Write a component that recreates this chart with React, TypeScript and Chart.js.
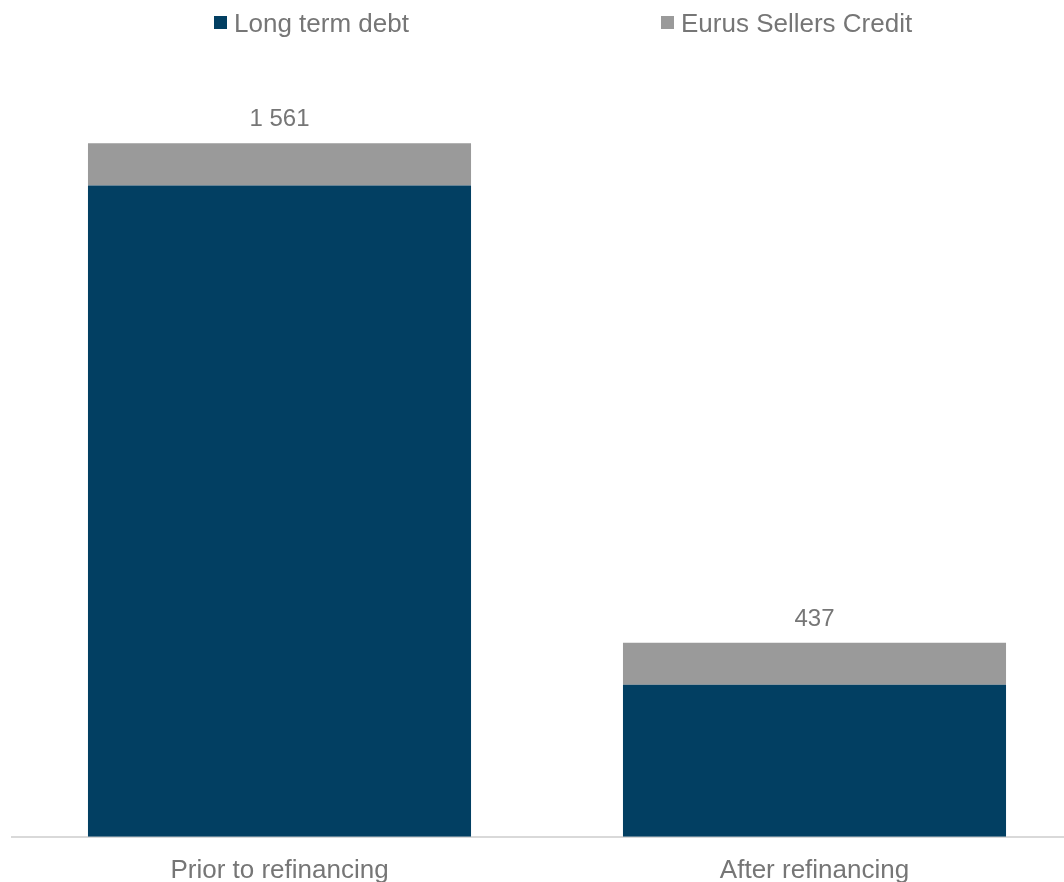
import React, { useEffect, useRef } from "react";
import { Chart, registerables } from "chart.js";

Chart.register(...registerables);

const categories = ["Prior to refinancing", "After refinancing"];
const longTermDebt = [1466, 342];
const eurusSellersCredit = [95, 95];
const seriesNames = ["Long term debt", "Eurus Sellers Credit"];
const seriesColors = ["#023F62", "#9A9A9A"];

const TEXT_COLOR = "#767676";
const FONT_FAMILY = "'Liberation Sans', Arial, sans-serif";

function formatTotal(v: number): string {
  return String(Math.round(v)).replace(/\B(?=(\d{3})+(?!\d))/g, " ");
}

const totalsPlugin = {
  id: "stackTotals",
  afterDatasetsDraw(chart: any) {
    const ctx = chart.ctx;
    const n = chart.data.labels.length;
    const lastMeta = chart.getDatasetMeta(chart.data.datasets.length - 1);
    ctx.save();
    ctx.font = `24px ${FONT_FAMILY}`;
    ctx.fillStyle = TEXT_COLOR;
    ctx.textAlign = "center";
    ctx.textBaseline = "alphabetic";
    for (let i = 0; i < n; i++) {
      let total = 0;
      chart.data.datasets.forEach((ds: any) => (total += ds.data[i]));
      const el = lastMeta.data[i];
      ctx.fillText(formatTotal(total), el.x, el.y - 17);
    }
    ctx.restore();
  },
};

const legendPlugin = {
  id: "customLegend",
  afterDraw(chart: any) {
    const ctx = chart.ctx;
    const starts = [214, 661];
    ctx.save();
    ctx.font = `26px ${FONT_FAMILY}`;
    ctx.textBaseline = "alphabetic";
    ctx.textAlign = "left";
    chart.data.datasets.forEach((ds: any, i: number) => {
      const x = starts[i];
      ctx.fillStyle = ds.backgroundColor;
      ctx.fillRect(x, 16, 13, 13);
      ctx.fillStyle = TEXT_COLOR;
      ctx.fillText(ds.label, x + 20, 32);
    });
    ctx.restore();
  },
};

export default function App() {
  const canvasRef = useRef<HTMLCanvasElement | null>(null);

  useEffect(() => {
    if (!canvasRef.current) return;
    const chart = new Chart(canvasRef.current, {
      type: "bar",
      data: {
        labels: categories,
        datasets: [
          {
            label: seriesNames[0],
            data: longTermDebt,
            backgroundColor: seriesColors[0],
            categoryPercentage: 1,
            barPercentage: 0.716,
          },
          {
            label: seriesNames[1],
            data: eurusSellersCredit,
            backgroundColor: seriesColors[1],
            categoryPercentage: 1,
            barPercentage: 0.716,
          },
        ],
      },
      options: {
        responsive: false,
        animation: false,
        devicePixelRatio: 1,
        layout: { padding: { top: 37, left: 12, right: 0, bottom: 0 } },
        plugins: {
          legend: { display: false },
          tooltip: { enabled: false },
        },
        scales: {
          x: {
            stacked: true,
            grid: { display: false, drawTicks: false },
            border: { display: true, color: "#D9D9D9", width: 2 },
            ticks: {
              padding: 18,
              color: TEXT_COLOR,
              font: { size: 26, family: FONT_FAMILY },
              maxRotation: 0,
            },
          },
          y: {
            stacked: true,
            display: false,
            min: 0,
            max: 1800,
          },
        },
      },
      plugins: [totalsPlugin, legendPlugin],
    });
    return () => chart.destroy();
  }, []);

  return (
    <div
      style={{
        position: "fixed",
        left: 0,
        top: 0,
        width: 1064,
        height: 882,
        overflow: "hidden",
        background: "#fff",
      }}
    >
      <canvas ref={canvasRef} width={1082} height={904} style={{ display: "block" }} />
    </div>
  );
}
